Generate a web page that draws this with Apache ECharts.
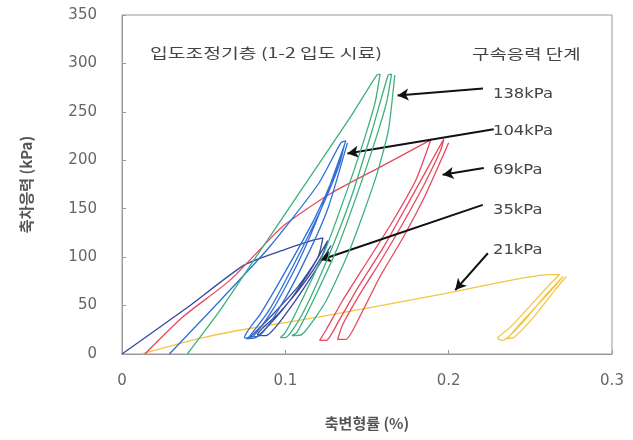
<!DOCTYPE html>
<html>
<head>
<meta charset="utf-8">
<script src="https://cdn.jsdelivr.net/npm/echarts/dist/echarts.min.js"></script>
<style>
  html, body { margin: 0; padding: 0; background: #fff; }
  #chart { width: 633px; height: 440px; }
</style>
</head>
<body>
<div id="chart"></div>
<script>
// 구속응력 단계별 축변형률(%) - 축차응력(kPa) 이력곡선
const kpa21 = [
  [0.012, 0], [0.045, 15], [0.07, 24], [0.12, 38], [0.2, 63], [0.262, 82], [0.268, 82],
  [0.262, 72], [0.25, 50], [0.238, 28], [0.23, 16], [0.233, 14], [0.245, 32], [0.258, 58],
  [0.27, 80], [0.265, 70], [0.253, 48], [0.242, 28], [0.236, 16], [0.24, 17], [0.252, 38],
  [0.265, 66], [0.272, 80]
];
const kpa35 = [
  [0, 0], [0.04, 48], [0.075, 92], [0.1, 108], [0.118, 118], [0.123, 120],
  [0.12, 100], [0.108, 70], [0.093, 42], [0.08, 20], [0.076, 16],
  [0.082, 17], [0.098, 45], [0.113, 80], [0.126, 117],
  [0.122, 100], [0.11, 70], [0.096, 42], [0.083, 20],
  [0.088, 19], [0.104, 50], [0.118, 85], [0.128, 112]
];
const kpa69 = [
  [0.014, 0], [0.037, 38], [0.066, 76], [0.093, 123], [0.1, 134], [0.128, 166], [0.158, 193], [0.189, 221],
  [0.18, 180], [0.165, 135], [0.15, 95], [0.135, 55], [0.125, 25], [0.121, 14],
  [0.125, 14], [0.133, 35], [0.145, 70], [0.16, 110], [0.175, 155], [0.197, 222],
  [0.195, 210], [0.185, 175], [0.172, 135], [0.158, 95], [0.145, 60], [0.135, 30], [0.132, 15],
  [0.137, 15], [0.146, 40], [0.158, 80], [0.172, 120], [0.186, 165], [0.2, 218]
];
const kpa104 = [
  [0.029, 0], [0.06, 55], [0.09, 110], [0.12, 175], [0.134, 218],
  [0.137, 220], [0.13, 185], [0.118, 140], [0.1, 85], [0.085, 42], [0.075, 17],
  [0.078, 16], [0.092, 45], [0.108, 95], [0.122, 150], [0.136, 215],
  [0.133, 195], [0.122, 150], [0.106, 95], [0.09, 45], [0.078, 18],
  [0.083, 18], [0.098, 52], [0.113, 100], [0.126, 150], [0.138, 218]
];
const kpa138 = [
  [0.04, 0], [0.06, 45], [0.08, 95], [0.1, 145], [0.12, 195], [0.14, 245], [0.156, 288],
  [0.158, 289], [0.155, 260], [0.148, 220], [0.138, 170], [0.125, 110], [0.11, 55], [0.1, 22], [0.097, 17],
  [0.1, 17], [0.11, 40], [0.125, 95], [0.14, 160], [0.153, 230], [0.163, 288],
  [0.165, 289], [0.162, 260], [0.155, 220], [0.145, 170], [0.132, 110], [0.117, 55], [0.107, 22], [0.104, 19],
  [0.11, 20], [0.125, 55], [0.14, 110], [0.155, 180], [0.163, 230], [0.167, 288]
];

const stageNames = ['21kPa', '35kPa', '69kPa', '104kPa', '138kPa'];
const stageColors = ['#F2C744', '#34489E', '#E8485E', '#2F6FD8', '#3FAF7F'];

// 화살표: 꼬리 -> 머리 (축 좌표)
const arrowTails = [[0.224, 104], [0.2209, 154], [0.2215, 192], [0.2276, 232], [0.221, 274]];
const arrowHeads = [[0.204, 66], [0.1215, 97], [0.1963, 185], [0.138, 207], [0.1687, 267]];

const xTicks = { min: 0, max: 0.3, step: 0.1 };
const yTicks = { min: 0, max: 350, step: 50 };

let myChart = echarts.init(document.getElementById('chart'));

const textFont = 'DejaVu Sans, "Noto Sans CJK KR", sans-serif';
const krFont = '"Noto Sans CJK KR", sans-serif';

let seriesList = [kpa21, kpa35, kpa69, kpa104, kpa138].map((d, i) => ({
  name: stageNames[i],
  type: 'line',
  data: d,
  showSymbol: false,
  smooth: 0.2,
  lineStyle: { width: 1.3, color: stageColors[i] },
  z: 2 + i
}));

seriesList[0].markLine = {
  silent: true,
  animation: false,
  symbol: ['none', 'arrow'],
  symbolSize: [9, 11],
  label: { show: false },
  lineStyle: { color: '#111', width: 2, type: 'solid' },
  data: arrowTails.map((t, i) => [{ coord: t }, { coord: arrowHeads[i] }])
};

const labelMids = [250, 210, 170, 131, 94];

// 원본 글자 폭이 넓어서 가로로 늘려 맞춤
function wideText(str, x, y, font, sx) {
  return {
    type: 'text', x: x, y: y, scaleX: sx, scaleY: 1,
    style: { text: str, font: font, fill: '#444', verticalAlign: 'middle' }
  };
}

myChart.setOption({
  animation: false,
  grid: { left: 122, right: 21, top: 15, bottom: 86, show: true, borderColor: '#999', borderWidth: 1 },
  xAxis: {
    type: 'value',
    min: xTicks.min, max: xTicks.max, interval: xTicks.step,
    name: '축변형률 (%)',
    nameLocation: 'middle',
    nameGap: 62,
    nameTextStyle: { fontFamily: krFont, fontSize: 15, fontWeight: 'bold', color: '#555' },
    axisLine: { lineStyle: { color: '#999' } },
    axisTick: { inside: true, length: 4, lineStyle: { color: '#999' } },
    axisLabel: { margin: 20, fontFamily: textFont, fontSize: 15, color: '#666' },
    splitLine: { show: false }
  },
  yAxis: {
    type: 'value',
    min: yTicks.min, max: yTicks.max, interval: yTicks.step,
    name: '축차응력 (kPa)',
    nameLocation: 'middle',
    nameGap: 88,
    nameTextStyle: { fontFamily: krFont, fontSize: 15, fontWeight: 'bold', color: '#555' },
    axisLine: { show: true, lineStyle: { color: '#999' } },
    axisTick: { show: true, inside: true, length: 4, lineStyle: { color: '#999' } },
    axisLabel: { margin: 25, fontFamily: textFont, fontSize: 15, color: '#666' },
    splitLine: { show: false }
  },
  graphic: [
    wideText('입도조정기층 (1-2 입도 시료)', 150, 53, '14px ' + krFont, 1.38),
    wideText('구속응력 단계', 472, 54, '14px ' + krFont, 1.35)
  ].concat(stageNames.map((n, i) => wideText(n, 493, labelMids[i], '14px ' + textFont, 1.17))),
  series: seriesList
});
</script>
</body>
</html>
